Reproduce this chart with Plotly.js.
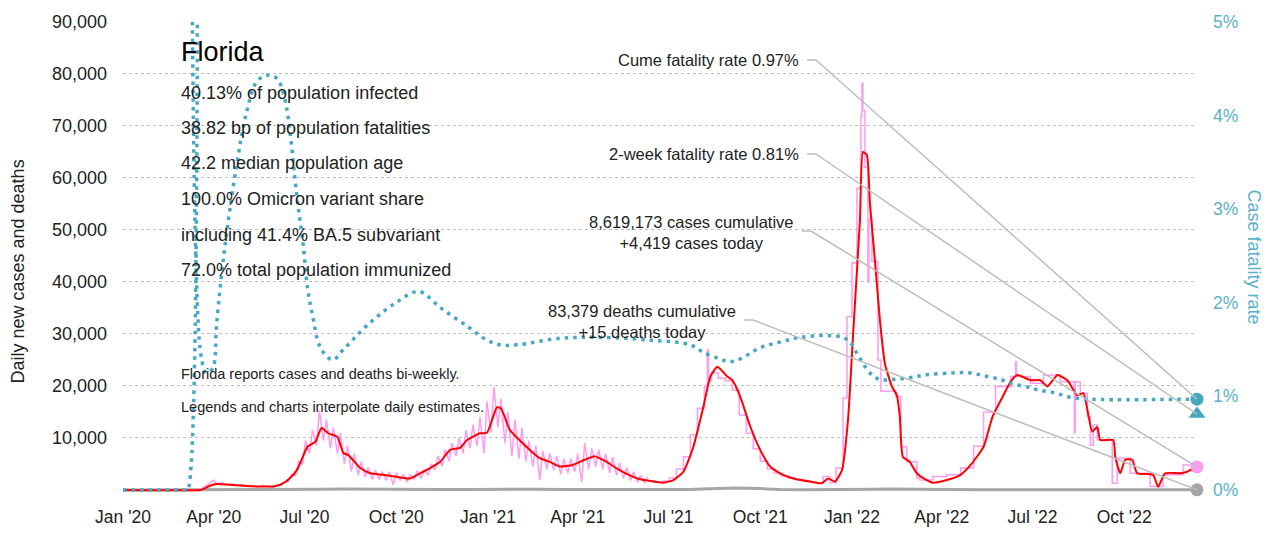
<!DOCTYPE html>
<html><head><meta charset="utf-8">
<script src="https://cdn.plot.ly/plotly-3.0.1.min.js"></script>
<style>html,body{margin:0;padding:0;background:#fff}#chart{width:1272px;height:534px}</style>
</head><body><div id="chart"></div>
<script>
// ---------------- DATA ----------------
// 7-day average of daily new cases (red)
const redDates = ['2020-01-01','2020-03-19','2020-03-23','2020-03-28','2020-04-04','2020-04-17','2020-05-02','2020-05-17','2020-06-01','2020-06-09','2020-06-16','2020-06-24','2020-07-04','2020-07-12','2020-07-18','2020-07-25','2020-08-03','2020-08-09','2020-08-14','2020-08-26','2020-09-05','2020-09-18','2020-10-05','2020-10-15','2020-10-25','2020-11-04','2020-11-14','2020-11-24','2020-12-04','2020-12-11','2020-12-24','2020-12-31','2021-01-10','2021-01-14','2021-01-23','2021-01-31','2021-02-12','2021-02-22','2021-03-04','2021-03-14','2021-03-27','2021-04-08','2021-04-18','2021-04-30','2021-05-13','2021-05-31','2021-06-13','2021-06-26','2021-07-06','2021-07-16','2021-07-26','2021-08-05','2021-08-12','2021-08-19','2021-08-29','2021-09-03','2021-09-11','2021-09-21','2021-10-01','2021-10-11','2021-10-21','2021-11-03','2021-11-20','2021-12-02','2021-12-08','2021-12-15','2021-12-22','2021-12-28','2022-01-02','2022-01-09','2022-01-12','2022-01-16','2022-01-19','2022-01-24','2022-01-29','2022-02-03','2022-02-10','2022-02-15','2022-02-18','2022-02-21','2022-02-28','2022-03-07','2022-03-17','2022-03-23','2022-04-06','2022-04-20','2022-04-30','2022-05-13','2022-05-22','2022-06-01','2022-06-09','2022-06-16','2022-06-29','2022-07-09','2022-07-16','2022-07-26','2022-08-05','2022-08-15','2022-08-21','2022-08-30','2022-09-04','2022-09-07','2022-09-20','2022-09-22','2022-09-27','2022-10-02','2022-10-09','2022-10-14','2022-10-30','2022-11-04','2022-11-11','2022-11-26','2022-12-03','2022-12-13'];
const redVals = [0,0,300,800,1150,1000,800,650,700,1200,2200,4000,8300,9300,11900,10900,10200,7100,6700,4200,3200,2900,2400,2200,3200,4200,5400,7700,8100,9600,10900,11000,15900,15700,11500,9900,7700,6100,5400,4500,4800,5800,6500,5400,3800,2200,1700,1400,1900,3500,8300,16000,21800,23700,21800,21100,17900,12200,7700,4500,3200,2200,1600,1300,2200,1600,3800,13400,29500,51900,65000,64400,55100,44200,32700,24300,19900,18200,14100,6400,5400,3200,1900,1400,1900,2900,4800,8300,14100,17900,20800,22100,21100,21100,19900,22100,21100,18200,18600,11200,12100,9600,9600,6400,3200,5800,5800,3200,2900,600,3200,3200,3500,4419];

// Daily reported cases (pink), early 2020
const pinkEarlyDates = ['2020-01-01','2020-03-14','2020-03-20','2020-03-26','2020-04-01','2020-04-04','2020-04-09','2020-04-14','2020-04-19','2020-04-24','2020-04-29','2020-05-05','2020-05-10','2020-05-15','2020-05-21','2020-05-26'];
const pinkEarlyVals = [0,0,300,1000,1900,1100,1400,900,1200,800,1000,600,900,500,900,600];
// Daily reported cases, weekly lows (Mondays) and highs (Thursdays), Jun 2020 - Jun 2021
const pinkWeekStart = '2020-06-01';
const pinkLow = [600,900,1600,2800,5000,7000,8500,9500,8000,7000,5000,3500,2800,2500,2000,2000,1800,1000,1800,1500,2000,2200,2800,3800,4500,5500,6500,7000,8000,8500,7000,11000,12000,9000,6500,6000,5500,4500,1900,4000,3800,3000,3200,3500,1500,4000,4500,4000,3300,2800,2200,1800,1500,1300];
const pinkHigh = [900,1600,3000,5500,9500,11500,15300,13500,12000,11000,8500,7000,5500,4300,3800,3500,3500,3300,3000,3000,3700,4000,5000,6500,7800,9000,10000,11500,12500,14000,17000,19800,17500,15000,13500,12000,9500,8500,7500,7000,6500,6000,6000,7000,9000,8000,7800,7000,6300,5200,4300,3500,2800,2400];
// Bi-weekly reporting period (step values), Jun 2021 onward
const pinkStepDates = ['2021-06-11','2021-06-18','2021-06-25','2021-07-02','2021-07-09','2021-07-16','2021-07-23','2021-07-30','2021-08-06','2021-08-09','2021-08-10','2021-08-13','2021-08-20','2021-08-27','2021-09-03','2021-09-10','2021-09-17','2021-09-24','2021-10-01','2021-10-08','2021-10-15','2021-10-22','2021-10-29','2021-11-05','2021-11-12','2021-11-19','2021-11-26','2021-12-03','2021-12-10','2021-12-16','2021-12-23','2021-12-27','2022-01-01','2022-01-06','2022-01-10','2022-01-11','2022-01-12','2022-01-14','2022-01-17','2022-01-18','2022-01-21','2022-01-27','2022-01-30','2022-02-14','2022-02-19','2022-02-25','2022-03-07','2022-03-10','2022-03-23','2022-04-06','2022-04-20','2022-05-03','2022-05-13','2022-05-25','2022-06-09','2022-06-14','2022-06-15','2022-06-29','2022-07-12','2022-07-29','2022-08-12','2022-08-13','2022-08-18','2022-08-25','2022-08-28','2022-08-31','2022-09-04','2022-09-19','2022-09-24','2022-10-07','2022-10-27','2022-11-09','2022-11-29','2022-12-13'];
const pinkStepVals = [1700,1500,1700,2300,4000,6400,10600,15700,20000,26900,21000,22500,21500,21000,19200,14400,10900,7900,5500,4000,3200,2700,2300,2000,1800,1500,1300,2600,1400,4200,17700,33300,43700,58000,72000,78200,73000,62000,40000,52000,44000,25000,19000,17900,8300,5400,2300,1900,2600,2900,4200,8400,15000,19900,21800,24600,21800,20500,22100,20800,11000,20800,18600,14100,8600,12500,9600,1300,6100,3200,640,2900,4800,4419];

// Daily deaths (gray)
const deathDates = ['2020-01-01','2020-03-15','2020-04-15','2020-05-15','2020-06-15','2020-07-20','2020-08-10','2020-09-10','2020-10-15','2020-11-15','2020-12-15','2021-01-20','2021-02-20','2021-03-20','2021-04-20','2021-05-20','2021-06-20','2021-07-20','2021-08-20','2021-09-05','2021-10-01','2021-10-20','2021-11-15','2021-12-15','2022-01-20','2022-02-10','2022-03-10','2022-04-10','2022-05-10','2022-06-10','2022-07-10','2022-08-10','2022-09-10','2022-10-10','2022-11-10','2022-12-13'];
const deathVals = [0,0,50,40,40,130,180,100,60,60,100,160,120,70,60,50,40,60,250,380,250,100,40,30,150,200,100,40,20,30,50,55,50,30,20,15];

// Case fatality rate, % (teal dotted, right axis)
const cfrDates = ['2020-01-01','2020-03-04','2020-03-06','2020-03-11','2020-03-19','2020-03-25','2020-03-31','2020-04-04','2020-04-12','2020-04-24','2020-05-04','2020-05-14','2020-05-24','2020-06-03','2020-06-11','2020-06-24','2020-06-30','2020-07-04','2020-07-09','2020-07-17','2020-07-29','2020-08-09','2020-09-05','2020-10-02','2020-10-24','2020-11-14','2020-12-11','2020-12-31','2021-01-13','2021-01-30','2021-03-14','2021-04-23','2021-06-13','2021-07-23','2021-08-05','2021-08-24','2021-08-31','2021-09-11','2021-10-01','2021-10-21','2021-11-10','2021-12-07','2021-12-23','2021-12-30','2022-01-06','2022-01-19','2022-01-29','2022-02-11','2022-02-28','2022-03-17','2022-04-12','2022-04-30','2022-05-17','2022-05-30','2022-06-09','2022-06-26','2022-07-06','2022-07-22','2022-08-08','2022-08-25','2022-12-13'];
const cfrVals = [0,0,0,20,1.45,1.25,1.3,1.79,2.59,3.47,4.04,4.36,4.43,4.40,4.19,3.08,2.59,2.16,1.87,1.52,1.39,1.50,1.79,2.01,2.12,1.95,1.75,1.60,1.55,1.55,1.62,1.63,1.60,1.55,1.47,1.39,1.37,1.40,1.52,1.58,1.63,1.65,1.63,1.58,1.46,1.25,1.18,1.18,1.20,1.23,1.25,1.25,1.21,1.18,1.14,1.10,1.07,1.04,0.99,0.97,0.97];

// Legend figures
const cumeFatalityRate = 0.97;
const twoWeekFatalityRate = 0.81;
const casesToday = 4419;
const deathsToday = 15;

const xTickFormat = "%b '%y";
const yTickVals = [10000,20000,30000,40000,50000,60000,70000,80000,90000];
const y2TickVals = [0,1,2,3,4,5];
const y2TickText = ['0%','1%','2%','3%','4%','5%'];

const statLines = ['40.13% of population infected','38.82 bp of population fatalities','42.2 median population age','100.0% Omicron variant share','including 41.4% BA.5 subvariant','72.0% total population immunized'];
const noteLines = ['Florida reports cases and deaths bi-weekly.','Legends and charts interpolate daily estimates.'];

// ---------------- BUILD ----------------
const FONT = '"Liberation Sans", Arial, sans-serif';
const TEAL = '#47a8c2', TEAL_T = '#5ab0c9', RED = '#ff0000', PINK = '#ff9cf0', GRAY = '#a6a6a6', LINEG = '#bdbdbd', INK = '#222';

function addDays(s, n){ const d = new Date(s+'T00:00:00Z'); d.setUTCDate(d.getUTCDate()+n); return d.toISOString().slice(0,10); }

const pinkAx = pinkEarlyDates.slice(), pinkAy = pinkEarlyVals.slice();
for (let i=0;i<pinkLow.length;i++){
  pinkAx.push(addDays(pinkWeekStart,7*i)); pinkAy.push(pinkLow[i]);
  pinkAx.push(addDays(pinkWeekStart,7*i+3)); pinkAy.push(pinkHigh[i]);
}

const lastDate = redDates[redDates.length-1];
const firstDate = '2020-01-01';
const M = {l:123, r:75, t:22, b:42, W:1272, H:534};
const pw = M.W-M.l-M.r, ph = M.H-M.t-M.b;
const px2p = x => (x-M.l)/pw;
const py2p = y => (M.H-M.b-y)/ph;
const Y1R = [-400, 90000];
const Y2R = [Y1R[0]/Y1R[1]*5, 5];
const t0 = Date.parse(firstDate+'T00:00:00Z'), t1 = Date.parse(lastDate+'T00:00:00Z');
const dateAtPaper = p => new Date(t0 + p*(t1-t0)).toISOString().slice(0,19).replace('T',' ');
const valAtPaper = (p, R) => R[0] + p*(R[1]-R[0]);

const traces = [
  {x: deathDates, y: deathVals, mode:'lines', line:{color:GRAY, width:3}, hoverinfo:'skip'},
  {x: pinkAx, y: pinkAy, mode:'lines', line:{color:PINK, width:1.5}, hoverinfo:'skip'},
  {x: pinkStepDates, y: pinkStepVals, mode:'lines', line:{color:PINK, width:1.5, shape:'hv'}, hoverinfo:'skip'},
  {x: redDates, y: redVals, mode:'lines', line:{color:RED, width:2, shape:'spline', smoothing:0.5}, hoverinfo:'skip'},
  {x: cfrDates, y: cfrVals, yaxis:'y2', mode:'lines', line:{color:TEAL, width:3.5, dash:'3.5px,5px', shape:'spline', smoothing:1}, hoverinfo:'skip'},
  {x:[lastDate], y:[cumeFatalityRate], yaxis:'y2', mode:'markers', marker:{color:TEAL, size:13, symbol:'circle'}, cliponaxis:false},
  {x:[lastDate], y:[twoWeekFatalityRate], yaxis:'y2', mode:'markers', marker:{color:TEAL, size:15, symbol:'triangle-up'}, cliponaxis:false},
  {x:[lastDate], y:[casesToday], mode:'markers', marker:{color:PINK, size:13, symbol:'circle'}, cliponaxis:false},
  {x:[lastDate], y:[deathsToday], mode:'markers', marker:{color:GRAY, size:13, symbol:'circle'}, cliponaxis:false}
];

const annotations = [];
const TX = px2p(179);
annotations.push({xref:'paper', yref:'paper', x:TX, y:py2p(52), xanchor:'left', yanchor:'middle', text:'Florida', showarrow:false, font:{family:FONT, size:27, color:'#000'}});
const statY = [92.5,128,163.5,199,234.5,270];
statLines.forEach((t,i)=>annotations.push({xref:'paper', yref:'paper', x:TX, y:py2p(statY[i]), xanchor:'left', yanchor:'middle', text:t, showarrow:false, font:{family:FONT, size:18, color:INK}}));
const noteY = [374,407];
noteLines.forEach((t,i)=>annotations.push({xref:'paper', yref:'paper', x:TX, y:py2p(noteY[i]), xanchor:'left', yanchor:'middle', text:t, showarrow:false, font:{family:FONT, size:14.5, color:INK}}));

// right-side labels with connectors to the latest values
const labels = [
  {rx:801, cy:60, text:'Cume fatality rate '+cumeFatalityRate.toFixed(2)+'%', sx:807, sy:60, axis:'y2', y:cumeFatalityRate},
  {rx:801, cy:154, text:'2-week fatality rate '+twoWeekFatalityRate.toFixed(2)+'%', sx:807, sy:154, axis:'y2', y:twoWeekFatalityRate},
  {rx:796, cy:232.5, text:'8,619,173 cases cumulative<br>+'+casesToday.toLocaleString('en-US')+' cases today', sx:802, sy:231, axis:'y', y:casesToday},
  {rx:738, cy:321.5, text:'83,379 deaths cumulative<br>+'+deathsToday+' deaths today', sx:744, sy:320, axis:'y', y:deathsToday}
];
const shapes = [];
labels.forEach(L=>{
  annotations.push({xref:'paper', yref:'paper', x:px2p(L.rx), y:py2p(L.cy), xanchor:'right', yanchor:'middle', align:'center', text:L.text, showarrow:false, font:{family:FONT, size:16.5, color:INK}});
  const p0 = px2p(L.sx), p1 = px2p(L.sx+9), py = py2p(L.sy);
  shapes.push({type:'line', xref:'paper', yref:'paper', x0:p0, x1:p1, y0:py, y1:py, line:{color:LINEG, width:1.5}, layer:'above'});
  const R = L.axis==='y2' ? Y2R : Y1R;
  shapes.push({type:'line', xref:'x', yref:L.axis, x0:dateAtPaper(p1), y0:valAtPaper(py,R), x1:lastDate, y1:L.y, line:{color:LINEG, width:1.5}, layer:'above'});
});

// axis titles
annotations.push({xref:'paper', yref:'paper', x:px2p(17), y:py2p(271.5), xanchor:'center', yanchor:'middle', textangle:-90, text:'Daily new cases and deaths', showarrow:false, font:{family:FONT, size:18, color:INK}});
annotations.push({xref:'paper', yref:'paper', x:px2p(1254), y:py2p(256.5), xanchor:'center', yanchor:'middle', textangle:90, text:'Case fatality rate', showarrow:false, font:{family:FONT, size:18, color:TEAL_T}});

const layout = {
  width:M.W, height:M.H,
  margin:{l:M.l, r:M.r, t:M.t, b:M.b, pad:0},
  paper_bgcolor:'#fff', plot_bgcolor:'#fff',
  showlegend:false, hovermode:false,
  font:{family:FONT, color:INK},
  xaxis:{type:'date', range:[firstDate, lastDate], tick0:firstDate, dtick:'M3', tickformat:xTickFormat,
         showgrid:false, zeroline:false, showline:false, ticks:'', ticklabelstandoff:12,
         tickfont:{family:FONT, size:17.5, color:INK}},
  yaxis:{range:Y1R, tickvals:yTickVals, tickformat:',d', showgrid:true, gridcolor:'#bdbdbd', griddash:'dot', gridwidth:1,
         zeroline:false, showline:false, ticks:'', ticklabelstandoff:15, tickfont:{family:FONT, size:18, color:INK}},
  yaxis2:{overlaying:'y', side:'right', range:Y2R, tickvals:y2TickVals, ticktext:y2TickText, showgrid:false, zeroline:false,
          showline:false, ticks:'', ticklabelstandoff:15, tickfont:{family:FONT, size:17.5, color:TEAL_T}},
  annotations, shapes
};

Plotly.newPlot('chart', traces, layout, {displayModeBar:false, staticPlot:true});
</script>
</body></html>
